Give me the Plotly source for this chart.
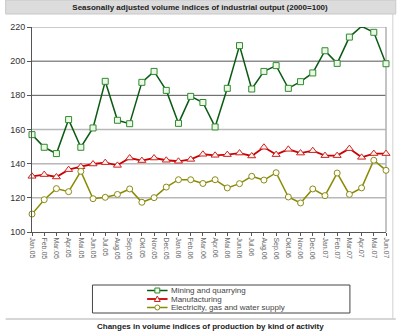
import plotly.graph_objects as go

months = ["Jan.05", "Feb.05", "Mar.05", "Apr.05", "Mai.05", "Jun.05", "Jul.05", "Aug.05",
          "Sep.05", "Okt.05", "Nov.05", "Dec.05", "Jan.06", "Feb.06", "Mar.06", "Apr.06",
          "Mai.06", "Jun.06", "Jul.06", "Aug.06", "Sep.06", "Okt.06", "Nov.06", "Dec.06",
          "Jan.07", "Feb.07", "Mar.07", "Apr.07", "Mai.07", "Jun.07"]

mining = [157.0, 149.6, 145.9, 165.8, 149.6, 160.9, 188.2, 165.4, 163.4, 187.6, 194.0, 182.9,
          163.6, 179.4, 175.8, 161.5, 184.1, 209.1, 183.7, 194.0, 197.4, 184.1, 188.0, 193.1,
          206.1, 198.7, 214.1, 220.4, 216.9, 198.5]
manufacturing = [132.6, 133.6, 132.2, 136.5, 138.2, 139.8, 140.6, 139.0, 143.3, 141.8, 143.3, 142.0,
                 141.4, 142.5, 145.5, 144.9, 145.3, 146.2, 144.5, 149.6, 145.3, 148.4, 146.2, 147.6,
                 144.7, 144.7, 148.8, 143.7, 145.9, 145.9]
electricity = [110.5, 118.9, 125.4, 123.6, 135.5, 119.5, 120.3, 122.0, 125.2, 117.4, 120.1, 126.3,
               130.6, 130.6, 128.4, 130.6, 125.8, 128.3, 132.6, 130.4, 134.7, 120.5, 117.0, 125.2,
               121.3, 134.5, 122.0, 125.8, 142.0, 136.1]

series_names = ["Mining and quarrying", "Manufacturing", "Electricity, gas and water supply"]
title_top = "Seasonally adjusted volume indices of industrial output (2000=100)"
title_bottom = "Changes in volume indices of production by kind of activity"
y_ticks = [100, 120, 140, 160, 180, 200, 220]
dark_grid = [180, 200]
light_grid = [120, 140, 160, 220]

x = list(range(len(months)))
FONT = "Liberation Sans"

# plot area in pixels: left 27, right 390, top 27, bottom 232
PL, PR, PT, PB = 27, 390, 27, 232
W, H = 400, 333


def px(xpix):
    return (xpix - PL) / (PR - PL)


def py(ypix):
    return (PB - ypix) / (PB - PT)


styles = [
    dict(line=dict(color="#0a5a12", width=1.5),
         marker=dict(symbol="square", size=6, color="#eef8e8", line=dict(color="#2e8b2e", width=1))),
    dict(line=dict(color="#cc0000", width=1.8),
         marker=dict(symbol="triangle-up", size=7, color="#fff4f0", line=dict(color="#cc2222", width=1))),
    dict(line=dict(color="#8a8a00", width=1.5),
         marker=dict(symbol="circle", size=6, color="#fffff4", line=dict(color="#8a8a20", width=1))),
]

fig = go.Figure()
for name, vals, st in zip(series_names, [mining, manufacturing, electricity], styles):
    fig.add_trace(go.Scatter(x=x, y=vals, name=name, mode="lines+markers", cliponaxis=False,
                             showlegend=False, line=st["line"], marker=st["marker"]))

shapes = []
for v in light_grid:
    shapes.append(dict(type="line", xref="paper", x0=0, x1=1, yref="y", y0=v, y1=v,
                       line=dict(color="#b8b8b8", width=1.5), layer="below"))
for v in dark_grid:
    shapes.append(dict(type="line", xref="paper", x0=0, x1=1, yref="y", y0=v, y1=v,
                       line=dict(color="#555555", width=1), layer="below"))
shapes.append(dict(type="line", xref="paper", x0=1, x1=1, yref="paper", y0=0, y1=1,
                   line=dict(color="#b0b0b0", width=1.5), layer="below"))
# title band
shapes.append(dict(type="rect", xref="paper", x0=px(0), x1=px(W), yref="paper", y0=py(14), y1=py(0),
                   fillcolor="#dcdcdc", line=dict(color="#c8c8c8", width=1), layer="below"))
# legend box
shapes.append(dict(type="rect", xref="paper", x0=px(89), x1=px(353), yref="paper", y0=py(313), y1=py(285),
                   fillcolor="white", line=dict(color="#444444", width=1)))
# bottom separator
shapes.append(dict(type="line", xref="paper", x0=px(0), x1=px(W), yref="paper", y0=py(319), y1=py(319),
                   line=dict(color="#c8c8c8", width=1.5)))
# right frame
shapes.append(dict(type="line", xref="paper", x0=px(397), x1=px(397), yref="paper", y0=py(319), y1=py(14),
                   line=dict(color="#d0d0d0", width=1)))

annotations = []
legend_rows = [290.5, 299, 307.5]
sx0, sx1, smid = 145, 166, 155.5
for name, st, ry in zip(series_names, styles, legend_rows):
    lc = st["line"]["color"]
    mk = st["marker"]
    shapes.append(dict(type="line", xref="paper", yref="paper", x0=px(sx0), x1=px(sx1), y0=py(ry), y1=py(ry),
                       line=dict(color=lc, width=st["line"]["width"])))
    mline = dict(color=mk["line"]["color"], width=1)
    if mk["symbol"] == "square":
        shapes.append(dict(type="rect", xref="paper", yref="paper", x0=px(smid - 2.5), x1=px(smid + 2.5),
                           y0=py(ry + 2.5), y1=py(ry - 2.5), fillcolor=mk["color"], line=mline))
    elif mk["symbol"] == "circle":
        shapes.append(dict(type="circle", xref="paper", yref="paper", x0=px(smid - 2.5), x1=px(smid + 2.5),
                           y0=py(ry + 2.5), y1=py(ry - 2.5), fillcolor=mk["color"], line=mline))
    else:
        path = "M {:.5f},{:.5f} L {:.5f},{:.5f} L {:.5f},{:.5f} Z".format(
            px(smid - 3), py(ry + 2.5), px(smid + 3), py(ry + 2.5), px(smid), py(ry - 3))
        shapes.append(dict(type="path", xref="paper", yref="paper", path=path,
                           fillcolor=mk["color"], line=mline))
    annotations.append(dict(text=name, xref="paper", yref="paper", x=px(167), y=py(ry),
                            xanchor="left", yanchor="middle", showarrow=False,
                            font=dict(family=FONT, size=8, color="#444444")))

annotations.append(dict(text="<b>" + title_bottom + "</b>", xref="paper", yref="paper",
                        x=px(210), y=py(326), xanchor="center", yanchor="middle",
                        showarrow=False, font=dict(family=FONT, size=8, color="#222222")))

fig.update_layout(
    width=W, height=H,
    margin=dict(l=PL, r=W - PR, t=PT, b=H - PB),
    paper_bgcolor="white", plot_bgcolor="white",
    font=dict(family=FONT, size=8, color="#333333"),
    showlegend=False,
    title=dict(text="<b>" + title_top + "</b>", x=0.5, xref="container", xanchor="center",
               y=1 - 7.5 / H, yref="container", yanchor="middle",
               font=dict(family=FONT, size=8, color="#222222")),
    shapes=shapes,
    annotations=annotations,
)

fig.update_xaxes(range=[0, len(months) - 1], tickmode="array", tickvals=x, ticktext=months,
                 tickangle=90, tickfont=dict(family=FONT, size=7, color="#666666"),
                 showgrid=False, zeroline=False, showline=True, linecolor="#555555", linewidth=1,
                 ticks="outside", ticklen=3, tickcolor="#555555")
fig.update_yaxes(range=[100, 220], tickmode="array", tickvals=y_ticks,
                 tickfont=dict(family=FONT, size=9, color="#333333"),
                 showgrid=False, zeroline=False, showline=True, linecolor="#555555", linewidth=1,
                 ticks="outside", ticklen=4, tickcolor="#555555")

fig.write_html("out.html")
